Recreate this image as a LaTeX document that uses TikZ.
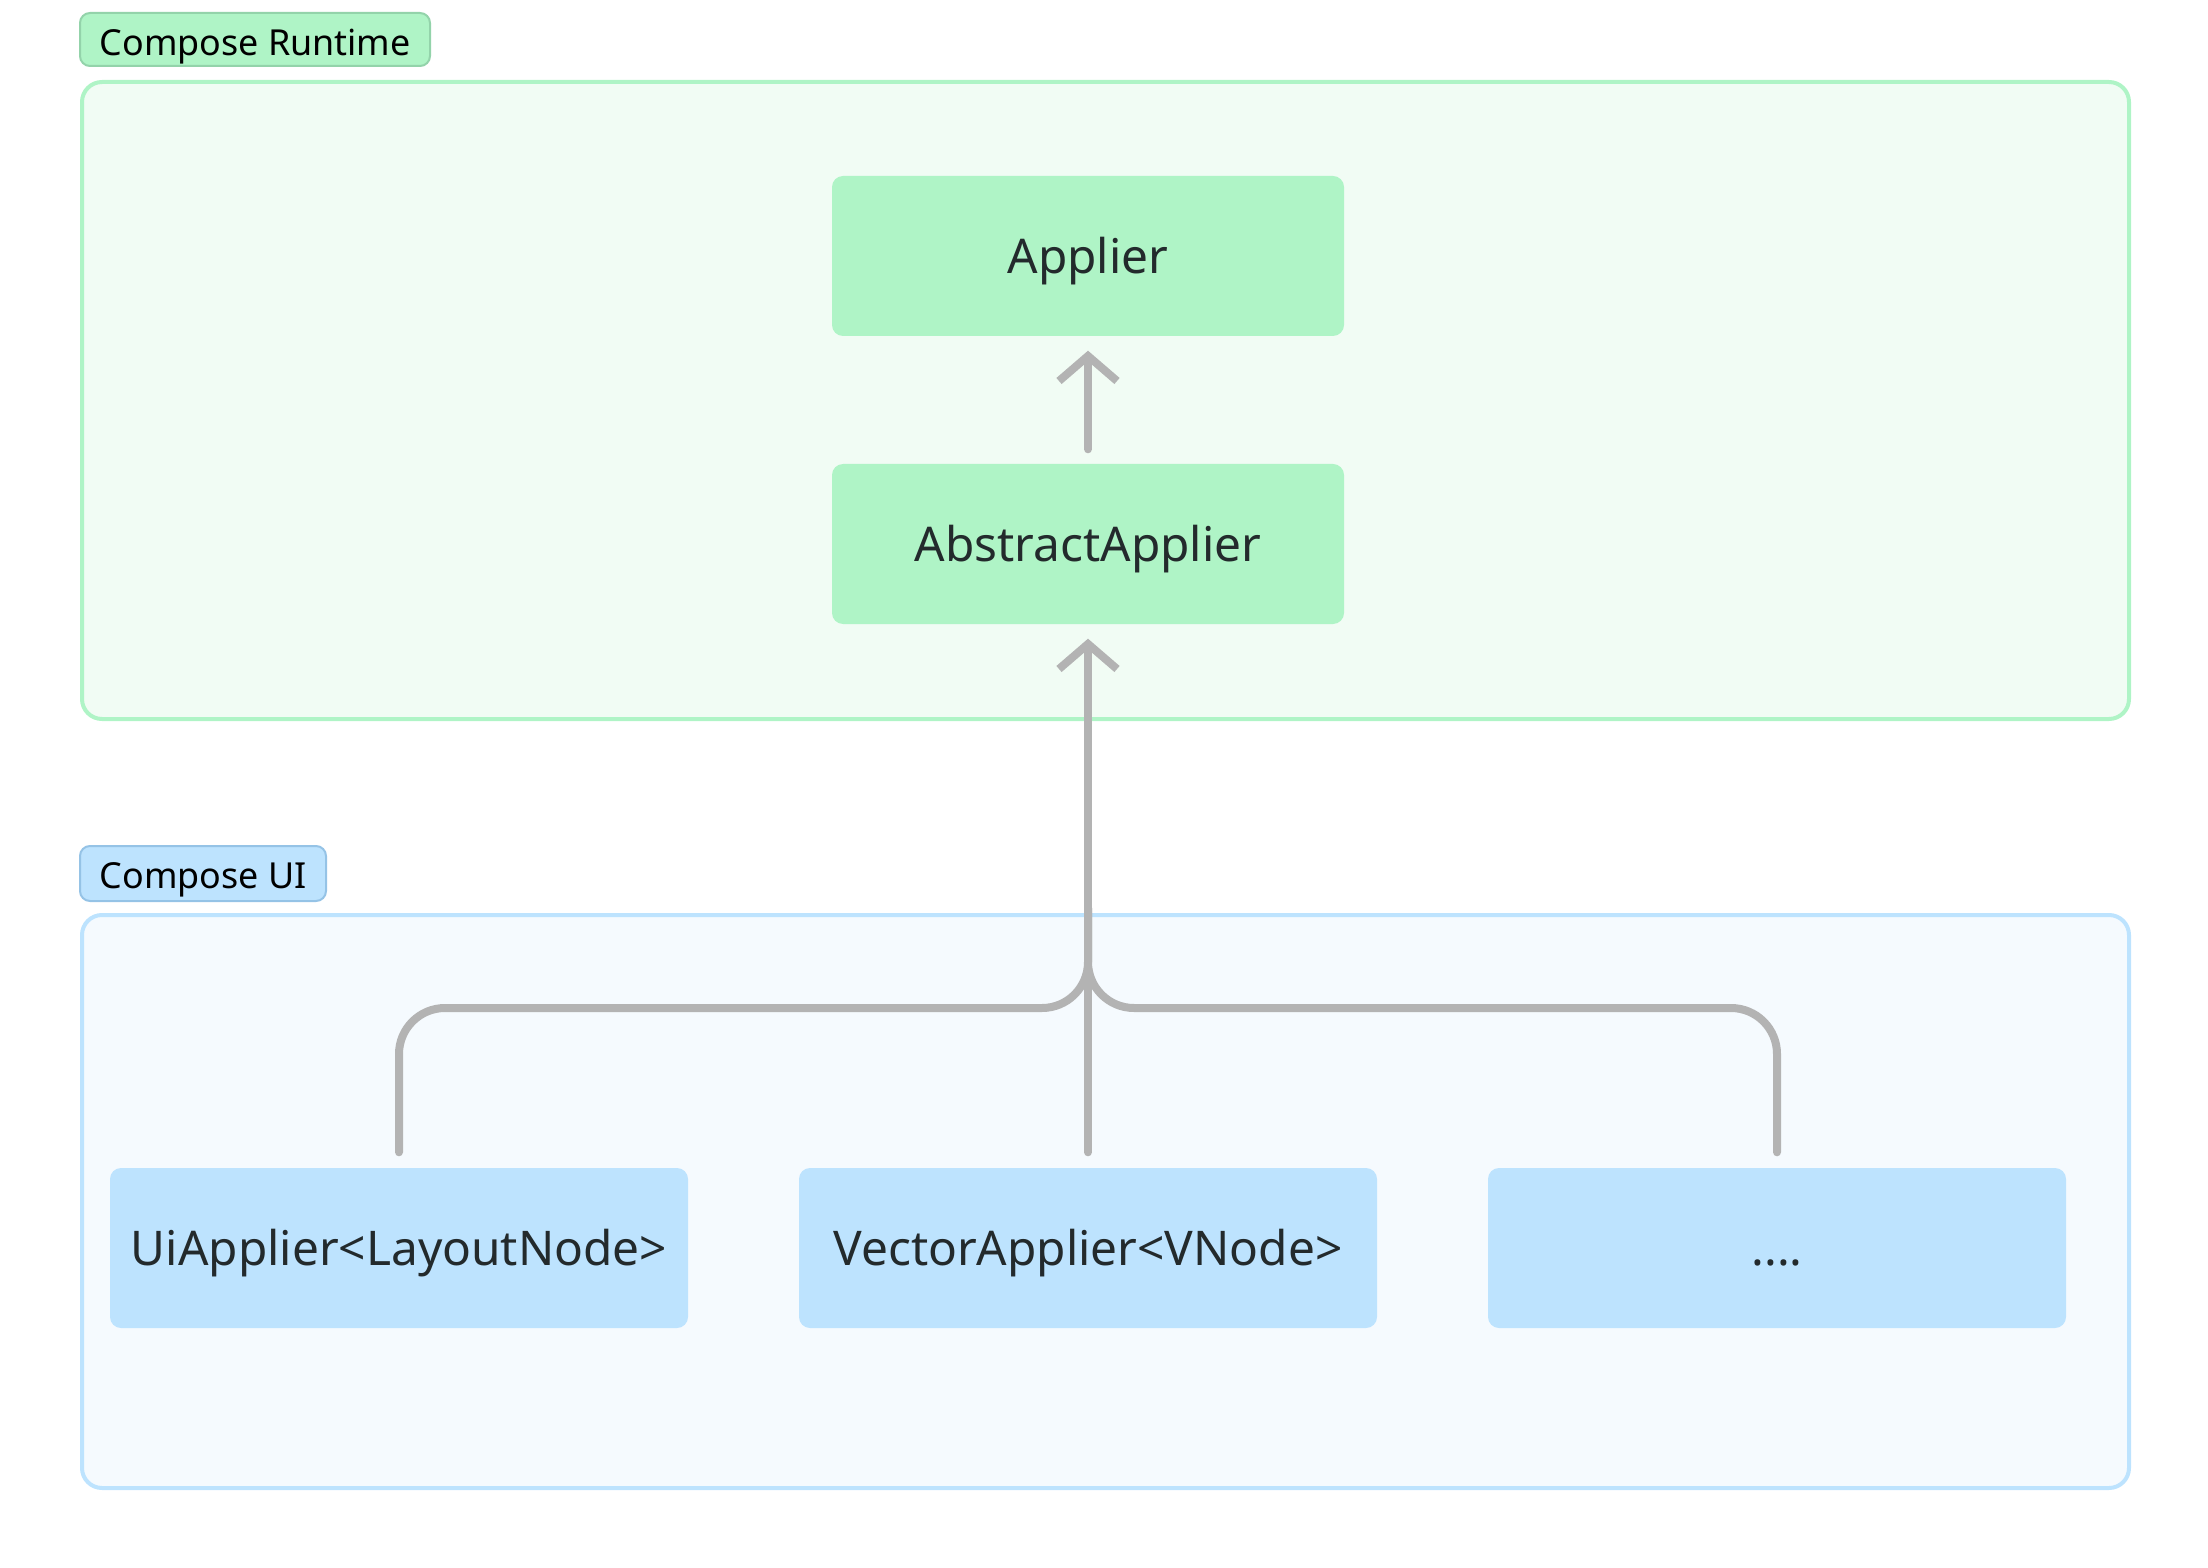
\documentclass[tikz,border=0pt]{standalone}
\usepackage{fontspec}
\setmainfont{Noto Sans}
\usetikzlibrary{arrows.meta}

\definecolor{rtfill}{HTML}{AFF4C6}
\definecolor{rtback}{HTML}{F1FCF4}
\definecolor{rtedge}{HTML}{93D3AA}
\definecolor{uifill}{HTML}{BDE3FE}
\definecolor{uiback}{HTML}{F5FAFE}
\definecolor{uiedge}{HTML}{95C3E6}
\definecolor{linkgray}{HTML}{B3B3B3}
\definecolor{boxtext}{HTML}{232A2C}

\begin{document}
\begin{tikzpicture}[
  region/.style={rounded corners=0.2cm,line width=0.04cm},
  tag/.style={rounded corners=0.1cm,line width=0.02cm},
  tagtext/.style={anchor=west,inner sep=0pt,text height=0.26cm,text depth=0pt,
    font=\fontsize{10.2}{12}\selectfont},
  classbox/.style={rounded corners=0.11cm,minimum width=5.12cm,
    minimum height=1.6cm,text height=0.345cm,text depth=0pt,
    text=boxtext,font=\fontsize{13.6}{16}\selectfont},
  uibox/.style={classbox,fill=uifill,minimum width=5.78cm},
  link/.style={linkgray,line width=0.08cm,line cap=round,line join=round},
  implements/.style={link,-{Straight Barb[length=0.25cm,width=0.58cm]}}
]
\useasboundingbox (0,0) rectangle (22.08,-15.68);

% Compose Runtime
\draw[region,draw=rtfill,fill=rtback] (0.82,-0.82) rectangle (21.29,-7.19);
\draw[tag,draw=rtedge,fill=rtfill] (0.80,-0.13) rectangle (4.30,-0.66);
\node[tagtext] (rtlabel) at (0.99,-0.43) {Compose Runtime};

\node[classbox,fill=rtfill] (applier) at (10.88,-2.56) {Applier};
\node[classbox,fill=rtfill] (abstract) at (10.88,-5.44) {AbstractApplier};

% Compose UI
\draw[region,draw=uifill,fill=uiback] (0.82,-9.15) rectangle (21.29,-14.88);
\draw[tag,draw=uiedge,fill=uifill] (0.80,-8.46) rectangle (3.26,-9.01);
\node[tagtext] (uilabel) at (0.99,-8.75) {Compose UI};

\node[uibox] (uiapplier) at (3.99,-12.48) {UiApplier<LayoutNode>};
\node[uibox] (vecapplier) at (10.88,-12.48) {VectorApplier<VNode>};
\node[uibox] (more) at (17.77,-12.48) {....};

\coordinate (hub) at (10.88,-10.08);

\draw[implements] ([yshift=0.14cm]abstract.north) -- ([yshift=-0.14cm]applier.south);
\draw[implements] ([yshift=0.15cm]vecapplier.north) -- ([yshift=-0.14cm]abstract.south);
\draw[link,rounded corners=0.46cm] ([yshift=0.15cm]uiapplier.north) |- (hub) -- ++(0,1);
\draw[link,rounded corners=0.46cm] ([yshift=0.15cm]more.north) |- (hub) -- ++(0,1);
\end{tikzpicture}
\end{document}
